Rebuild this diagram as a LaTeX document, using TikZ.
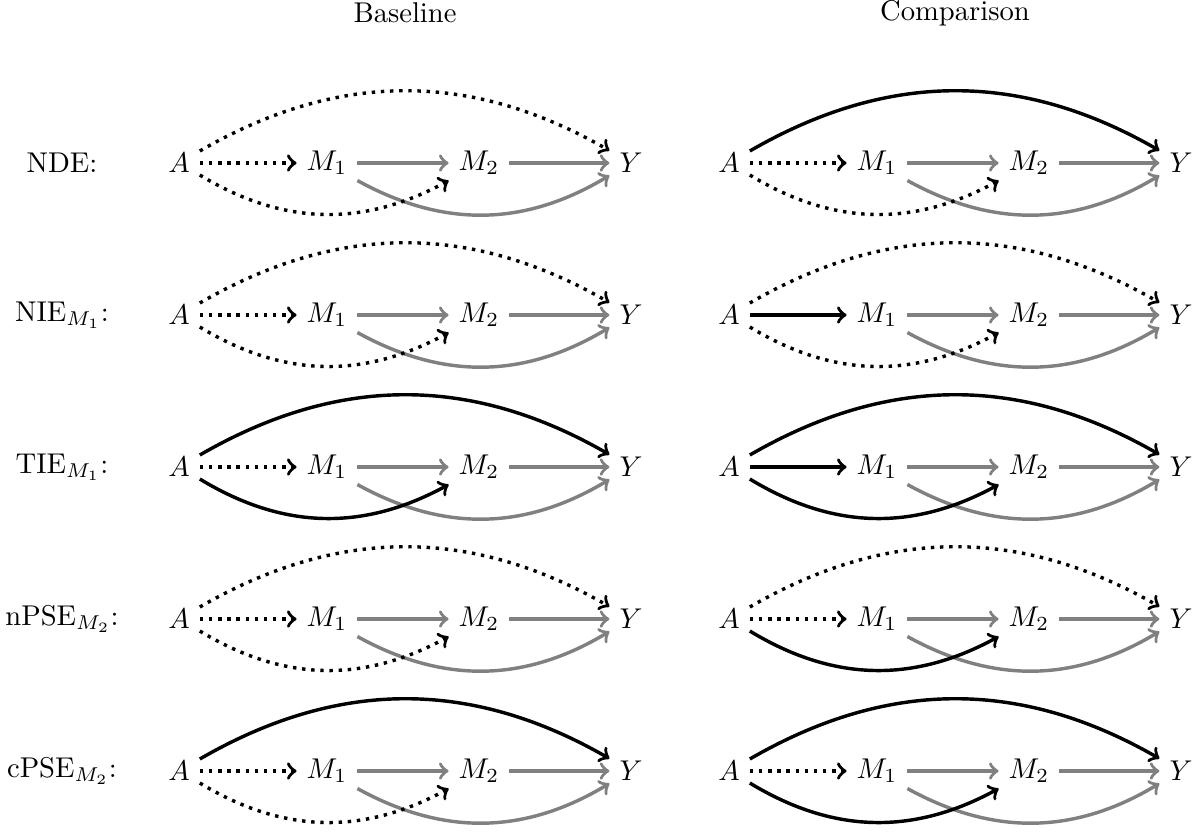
\documentclass[tikz,border=0pt]{standalone}
\tikzset{
  solidarrow/.style={very thick,->,black},
  dotarrow/.style={very thick,->,black,dotted},
  grayarrow/.style={very thick,->,gray},
  rowlabel/.style={anchor=center},
  header/.style={anchor=center}
}
\newcommand{\mypanel}[6]{%
  \node (#1A)  at (#2,#3) {$A$};
  \node (#1M1) at ({#2+148},#3) {$M_1$};
  \node (#1M2) at ({#2+300},#3) {$M_2$};
  \node (#1Y)  at ({#2+452},#3) {$Y$};
  \draw[grayarrow] (#1M1) -- (#1M2);
  \draw[grayarrow] (#1M2) -- (#1Y);
  \draw[grayarrow] (#1M1) to[bend right=30] (#1Y);
  \draw[#4] (#1A) to[bend left=30] (#1Y);
  \draw[#5] (#1A) -- (#1M1);
  \draw[#6] (#1A) to[bend right=30] (#1M2);
}
\begin{document}
\begin{tikzpicture}[x=0.3497pt,y=-0.3497pt]
\useasboundingbox (0,0) rectangle (1202,831);
\node[header] (hb) at (405,13) {Baseline};
\node[header] (hc) at (955,13) {Comparison};
% row 1
\node[rowlabel] (l1) at (62,163) {NDE:};
\mypanel{ba}{179}{163}{dotarrow}{dotarrow}{dotarrow}
\mypanel{ca}{729}{163}{solidarrow}{dotarrow}{dotarrow}
% row 2
\node[rowlabel] (l2) at (62,315) {NIE$_{M_1}$:};
\mypanel{bb}{179}{315}{dotarrow}{dotarrow}{dotarrow}
\mypanel{cb}{729}{315}{dotarrow}{solidarrow}{dotarrow}
% row 3
\node[rowlabel] (l3) at (62,467) {TIE$_{M_1}$:};
\mypanel{bc}{179}{467}{solidarrow}{dotarrow}{solidarrow}
\mypanel{cc}{729}{467}{solidarrow}{solidarrow}{solidarrow}
% row 4
\node[rowlabel] (l4) at (62,619) {nPSE$_{M_2}$:};
\mypanel{bd}{179}{619}{dotarrow}{dotarrow}{dotarrow}
\mypanel{cd}{729}{619}{dotarrow}{dotarrow}{solidarrow}
% row 5
\node[rowlabel] (l5) at (62,771) {cPSE$_{M_2}$:};
\mypanel{be}{179}{771}{solidarrow}{dotarrow}{dotarrow}
\mypanel{ce}{729}{771}{solidarrow}{dotarrow}{solidarrow}
\end{tikzpicture}
\end{document}
